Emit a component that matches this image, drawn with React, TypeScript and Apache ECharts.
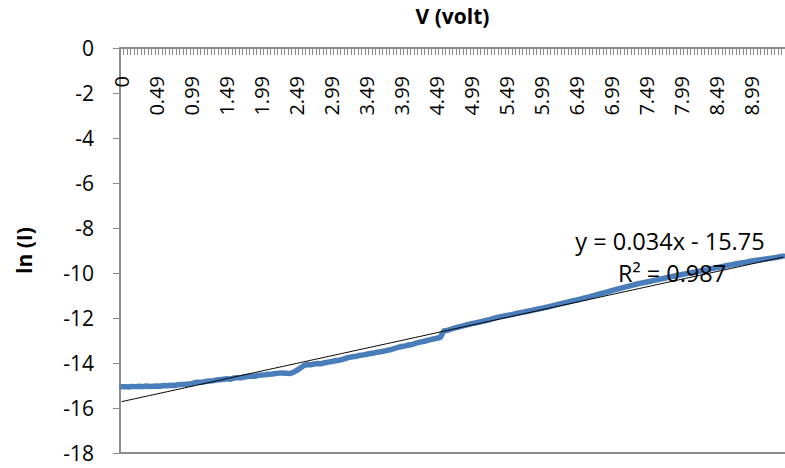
import React, { useEffect, useRef } from "react";
import * as echarts from "echarts";

// ln(I) readings, one per measurement step (190 steps)
const lnI: number[] = [
  -15.06, -15.05, -15.07, -15.04, -15.05, -15.03, -15.05, -15.02, -15.04, -15.03,
  -15.02, -15.03, -15.0, -15.01, -14.99, -15.0, -14.97, -14.96, -14.95, -14.93,
  -14.92, -14.87, -14.85, -14.86, -14.82, -14.8, -14.79, -14.76, -14.74, -14.72,
  -14.7, -14.72, -14.67, -14.65, -14.66, -14.62, -14.6, -14.58, -14.59, -14.55,
  -14.53, -14.52, -14.5, -14.49, -14.47, -14.45, -14.44, -14.46, -14.47, -14.42,
  -14.33, -14.22, -14.12, -14.07, -14.08, -14.04, -14.02, -14.03, -13.99, -13.96,
  -13.93, -13.9, -13.88, -13.84, -13.79, -13.75, -13.72, -13.7, -13.66, -13.64,
  -13.61, -13.58, -13.56, -13.52, -13.5, -13.47, -13.43, -13.4, -13.35, -13.3,
  -13.27, -13.24, -13.2, -13.18, -13.12, -13.08, -13.05, -13.01, -12.97, -12.93,
  -12.9, -12.86, -12.58, -12.55, -12.5, -12.45, -12.41, -12.37, -12.33, -12.29,
  -12.25, -12.22, -12.19, -12.15, -12.11, -12.08, -12.03, -11.99, -11.95, -11.92,
  -11.89, -11.86, -11.83, -11.79, -11.76, -11.73, -11.7, -11.67, -11.63, -11.6,
  -11.57, -11.53, -11.5, -11.46, -11.42, -11.38, -11.34, -11.31, -11.27, -11.23,
  -11.2, -11.16, -11.12, -11.08, -11.04, -11.0, -10.95, -10.91, -10.87, -10.83,
  -10.78, -10.74, -10.7, -10.66, -10.62, -10.58, -10.54, -10.5, -10.46, -10.43,
  -10.4, -10.37, -10.33, -10.3, -10.27, -10.23, -10.2, -10.16, -10.13, -10.1,
  -10.07, -10.04, -10.01, -9.98, -9.95, -9.92, -9.89, -9.86, -9.82, -9.79,
  -9.76, -9.73, -9.7, -9.67, -9.64, -9.61, -9.58, -9.55, -9.53, -9.5,
  -9.47, -9.44, -9.42, -9.4, -9.38, -9.35, -9.33, -9.31, -9.28, -9.25,
];

// voltage labels shown every 10th step
const voltTicks: string[] = [
  "0", "0.49", "0.99", "1.49", "1.99", "2.49", "2.99", "3.49", "3.99", "4.49",
  "4.99", "5.49", "5.99", "6.49", "6.99", "7.49", "7.99", "8.49", "8.99",
];

const trendSlope = 0.034;
const trendIntercept = -15.75;
const trendLabel = "y = 0.034x - 15.75";
const r2Label = "R² = 0.987";

const FONT = "'Open Sans', Lato, 'Liberation Sans', sans-serif";

export default function App() {
  const ref = useRef<HTMLDivElement>(null);

  useEffect(() => {
    if (!ref.current) return;
    const chart = echarts.init(ref.current, null, { renderer: "svg" });
    const steps = lnI.map((_, i) => String(i + 1));
    const trend = lnI.map((_, i) => +(trendSlope * (i + 1) + trendIntercept).toFixed(4));

    chart.setOption({
      animation: false,
      backgroundColor: "#ffffff",
      grid: { left: 120, right: 0, top: 46, bottom: 15, containLabel: false },
      xAxis: [
        {
          type: "category",
          position: "top",
          data: steps,
          boundaryGap: true,
          name: "V (volt)",
          nameLocation: "middle",
          nameGap: 22,
          nameTextStyle: { fontFamily: FONT, fontWeight: "bold", fontSize: 21, color: "#000" },
          axisLine: { show: true, lineStyle: { color: "#8c8c8c", width: 2 } },
          axisTick: { show: true, inside: true, interval: 0, length: 7, lineStyle: { color: "#8c8c8c", width: 1 } },
          axisLabel: {
            show: true,
            inside: true,
            rotate: 90,
            interval: 9,
            margin: 28,
            fontFamily: FONT,
            fontSize: 20,
            color: "#000",
            formatter: (_v: string, idx: number) => (idx % 10 === 0 ? voltTicks[idx / 10] ?? "" : ""),
          },
          splitLine: { show: false },
        },
        {
          type: "category",
          position: "bottom",
          data: steps,
          boundaryGap: true,
          axisLine: { show: true, lineStyle: { color: "#8c8c8c", width: 2 } },
          axisTick: { show: false },
          axisLabel: { show: false },
          splitLine: { show: false },
        },
      ],
      yAxis: {
        type: "value",
        min: -18,
        max: 0,
        interval: 2,
        name: "ln (I)",
        nameLocation: "middle",
        nameGap: 86,
        nameTextStyle: { fontFamily: FONT, fontWeight: "bold", fontSize: 21, color: "#000" },
        axisLine: { show: true, lineStyle: { color: "#8c8c8c", width: 2 } },
        axisTick: { show: true, length: 7, lineStyle: { color: "#8c8c8c", width: 1 } },
        axisLabel: { margin: 26, fontFamily: FONT, fontSize: 21, color: "#000" },
        splitLine: { show: false },
      },
      series: [
        {
          type: "line",
          data: lnI,
          xAxisIndex: 0,
          showSymbol: false,
          symbol: "none",
          lineStyle: { color: "#4a7ebb", width: 5.5, cap: "round", join: "round" },
          z: 2,
        },
        {
          type: "line",
          data: trend,
          xAxisIndex: 0,
          showSymbol: false,
          symbol: "none",
          lineStyle: { color: "#000000", width: 1 },
          z: 3,
        },
      ],
      graphic: [
        {
          type: "text",
          x: 670,
          y: 241,
          style: { text: trendLabel, font: `23.5px ${FONT}`, fill: "#000", textAlign: "center", textVerticalAlign: "middle" },
          z: 10,
        },
        {
          type: "text",
          x: 672,
          y: 273,
          style: { text: r2Label, font: `23.5px ${FONT}`, fill: "#000", textAlign: "center", textVerticalAlign: "middle" },
          z: 10,
        },
      ],
    });

    return () => chart.dispose();
  }, []);

  return (
    <div
      ref={ref}
      style={{ position: "fixed", left: 0, top: 0, width: 785, height: 468 }}
    />
  );
}
